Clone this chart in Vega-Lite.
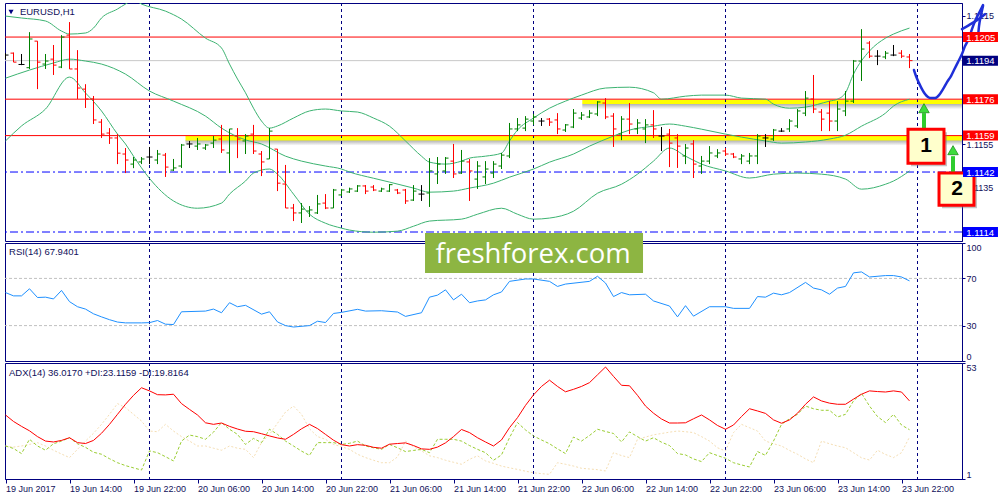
{
  "$schema": "https://vega.github.io/schema/vega-lite/v6.json",
  "padding": {"left": 3, "top": 2, "right": 0, "bottom": 0},
  "background": "white",
  "spacing": 2,
  "bounds": "flush",
  "config": {
    "view": {"stroke": "#000080", "strokeWidth": 1},
    "axis": {"labelFont": "Liberation Sans", "labelFontSize": 9, "labelColor": "#10105a", "domainColor": "#000080", "tickColor": "#000080", "grid": false}
  },
  "datasets": {
    "bars": [
      {"i":0,"o":1.11966,"h":1.11975,"l":1.11947,"c":1.11966},
      {"i":1,"o":1.11975,"h":1.11978,"l":1.11933,"c":1.11933},
      {"i":2,"o":1.11922,"h":1.11971,"l":1.11919,"c":1.11922},
      {"i":3,"o":1.11907,"h":1.12073,"l":1.11901,"c":1.12041},
      {"i":4,"o":1.12031,"h":1.12031,"l":1.11807,"c":1.11933},
      {"i":5,"o":1.11924,"h":1.11971,"l":1.11901,"c":1.11938},
      {"i":6,"o":1.11947,"h":1.12013,"l":1.11873,"c":1.11919},
      {"i":7,"o":1.1191,"h":1.12059,"l":1.11905,"c":1.1205},
      {"i":8,"o":1.12059,"h":1.1212,"l":1.11901,"c":1.11901},
      {"i":9,"o":1.11901,"h":1.11989,"l":1.11761,"c":1.11812},
      {"i":10,"o":1.11807,"h":1.1183,"l":1.11719,"c":1.11761},
      {"i":11,"o":1.11761,"h":1.11775,"l":1.11644,"c":1.11663},
      {"i":12,"o":1.11653,"h":1.11667,"l":1.11579,"c":1.11597},
      {"i":13,"o":1.11602,"h":1.11625,"l":1.11551,"c":1.11579},
      {"i":14,"o":1.11579,"h":1.11597,"l":1.11457,"c":1.11508},
      {"i":15,"o":1.11504,"h":1.11532,"l":1.11415,"c":1.11476},
      {"i":16,"o":1.11457,"h":1.1149,"l":1.11438,"c":1.11476},
      {"i":17,"o":1.11467,"h":1.1149,"l":1.11457,"c":1.11481},
      {"i":18,"o":1.1149,"h":1.11537,"l":1.11457,"c":1.1149},
      {"i":19,"o":1.11476,"h":1.11523,"l":1.11457,"c":1.11504},
      {"i":20,"o":1.11499,"h":1.11509,"l":1.11397,"c":1.11443},
      {"i":21,"o":1.11429,"h":1.11481,"l":1.11425,"c":1.11439},
      {"i":22,"o":1.11448,"h":1.11551,"l":1.11439,"c":1.11546},
      {"i":23,"o":1.11551,"h":1.11565,"l":1.11532,"c":1.11551},
      {"i":24,"o":1.11541,"h":1.11579,"l":1.11523,"c":1.11551},
      {"i":25,"o":1.11532,"h":1.11551,"l":1.11523,"c":1.11546},
      {"i":26,"o":1.11555,"h":1.11588,"l":1.11532,"c":1.11569},
      {"i":27,"o":1.11574,"h":1.1164,"l":1.11509,"c":1.11523},
      {"i":28,"o":1.11509,"h":1.11621,"l":1.11415,"c":1.11621},
      {"i":29,"o":1.11588,"h":1.11625,"l":1.11485,"c":1.11574},
      {"i":30,"o":1.11565,"h":1.11597,"l":1.11504,"c":1.11588},
      {"i":31,"o":1.11597,"h":1.1164,"l":1.11504,"c":1.11518},
      {"i":32,"o":1.11504,"h":1.11518,"l":1.11401,"c":1.11467},
      {"i":33,"o":1.11481,"h":1.11625,"l":1.11481,"c":1.11611},
      {"i":34,"o":1.11527,"h":1.11527,"l":1.11331,"c":1.11368},
      {"i":35,"o":1.11364,"h":1.11453,"l":1.11252,"c":1.11252},
      {"i":36,"o":1.11252,"h":1.11271,"l":1.11191,"c":1.11229},
      {"i":37,"o":1.11229,"h":1.11275,"l":1.11182,"c":1.11247},
      {"i":38,"o":1.11238,"h":1.11261,"l":1.1121,"c":1.11243},
      {"i":39,"o":1.11229,"h":1.11313,"l":1.11224,"c":1.11271},
      {"i":40,"o":1.11275,"h":1.11317,"l":1.11247,"c":1.11252},
      {"i":41,"o":1.11252,"h":1.11341,"l":1.11252,"c":1.11336},
      {"i":42,"o":1.11313,"h":1.11341,"l":1.11308,"c":1.11336},
      {"i":43,"o":1.11327,"h":1.11347,"l":1.11322,"c":1.11341},
      {"i":44,"o":1.11331,"h":1.11359,"l":1.11327,"c":1.11355},
      {"i":45,"o":1.11355,"h":1.11359,"l":1.11317,"c":1.11331},
      {"i":46,"o":1.1135,"h":1.11359,"l":1.11331,"c":1.11336},
      {"i":47,"o":1.11331,"h":1.11347,"l":1.11327,"c":1.11341},
      {"i":48,"o":1.11331,"h":1.11364,"l":1.11327,"c":1.11361},
      {"i":49,"o":1.11336,"h":1.11341,"l":1.11317,"c":1.11322},
      {"i":50,"o":1.11336,"h":1.11341,"l":1.11271,"c":1.11285},
      {"i":51,"o":1.11289,"h":1.11359,"l":1.11285,"c":1.11331},
      {"i":52,"o":1.11317,"h":1.11359,"l":1.11285,"c":1.11317},
      {"i":53,"o":1.11322,"h":1.11485,"l":1.11257,"c":1.11425},
      {"i":54,"o":1.11411,"h":1.1149,"l":1.11364,"c":1.11457},
      {"i":55,"o":1.11425,"h":1.1149,"l":1.11411,"c":1.11485},
      {"i":56,"o":1.11471,"h":1.11551,"l":1.11392,"c":1.11411},
      {"i":57,"o":1.11415,"h":1.11523,"l":1.11411,"c":1.11471},
      {"i":58,"o":1.11467,"h":1.11481,"l":1.11285,"c":1.11425},
      {"i":59,"o":1.11387,"h":1.11471,"l":1.11341,"c":1.11448},
      {"i":60,"o":1.11397,"h":1.11471,"l":1.11364,"c":1.11434},
      {"i":61,"o":1.11415,"h":1.11471,"l":1.11392,"c":1.11457},
      {"i":62,"o":1.11448,"h":1.11509,"l":1.11434,"c":1.11499},
      {"i":63,"o":1.11495,"h":1.11649,"l":1.11485,"c":1.11621},
      {"i":64,"o":1.11621,"h":1.11672,"l":1.11611,"c":1.1164},
      {"i":65,"o":1.11625,"h":1.11681,"l":1.11611,"c":1.11667},
      {"i":66,"o":1.11658,"h":1.11691,"l":1.1164,"c":1.11677},
      {"i":67,"o":1.11658,"h":1.11672,"l":1.11635,"c":1.11658},
      {"i":68,"o":1.11667,"h":1.11672,"l":1.11635,"c":1.11653},
      {"i":69,"o":1.11663,"h":1.11695,"l":1.11597,"c":1.11621},
      {"i":70,"o":1.11616,"h":1.11644,"l":1.11607,"c":1.1164},
      {"i":71,"o":1.1163,"h":1.11714,"l":1.11625,"c":1.11695},
      {"i":72,"o":1.11672,"h":1.117,"l":1.11663,"c":1.11686},
      {"i":73,"o":1.11677,"h":1.11709,"l":1.11672,"c":1.11695},
      {"i":74,"o":1.11691,"h":1.11751,"l":1.11681,"c":1.11747},
      {"i":75,"o":1.11742,"h":1.11765,"l":1.11667,"c":1.11677},
      {"i":76,"o":1.11681,"h":1.11695,"l":1.11537,"c":1.11621},
      {"i":77,"o":1.11597,"h":1.11681,"l":1.11569,"c":1.11667},
      {"i":78,"o":1.11667,"h":1.11742,"l":1.11597,"c":1.11644},
      {"i":79,"o":1.11621,"h":1.11667,"l":1.11597,"c":1.11649},
      {"i":80,"o":1.11621,"h":1.11667,"l":1.11555,"c":1.1164},
      {"i":81,"o":1.1164,"h":1.11709,"l":1.11579,"c":1.11621},
      {"i":82,"o":1.11588,"h":1.1163,"l":1.11518,"c":1.11588},
      {"i":83,"o":1.11597,"h":1.11621,"l":1.11443,"c":1.11555},
      {"i":84,"o":1.11579,"h":1.11597,"l":1.11439,"c":1.11541},
      {"i":85,"o":1.11495,"h":1.11551,"l":1.11457,"c":1.11532},
      {"i":86,"o":1.11551,"h":1.11569,"l":1.11392,"c":1.11457},
      {"i":87,"o":1.11448,"h":1.11495,"l":1.11411,"c":1.11471},
      {"i":88,"o":1.11471,"h":1.11541,"l":1.11457,"c":1.11509},
      {"i":89,"o":1.11495,"h":1.11527,"l":1.11485,"c":1.11509},
      {"i":90,"o":1.11518,"h":1.11532,"l":1.11495,"c":1.11504},
      {"i":91,"o":1.11504,"h":1.11509,"l":1.11485,"c":1.1149},
      {"i":92,"o":1.11481,"h":1.11504,"l":1.11457,"c":1.11495},
      {"i":93,"o":1.11471,"h":1.11509,"l":1.11457,"c":1.11495},
      {"i":94,"o":1.11495,"h":1.11597,"l":1.11457,"c":1.11588},
      {"i":95,"o":1.11579,"h":1.11597,"l":1.11537,"c":1.11579},
      {"i":96,"o":1.11574,"h":1.11621,"l":1.11565,"c":1.11616},
      {"i":97,"o":1.11611,"h":1.11625,"l":1.11607,"c":1.11611},
      {"i":98,"o":1.11621,"h":1.11667,"l":1.11607,"c":1.11658},
      {"i":99,"o":1.11635,"h":1.11714,"l":1.11625,"c":1.11705},
      {"i":100,"o":1.11695,"h":1.11798,"l":1.11681,"c":1.11765},
      {"i":101,"o":1.11761,"h":1.11873,"l":1.11695,"c":1.11714},
      {"i":102,"o":1.117,"h":1.11714,"l":1.11611,"c":1.11667},
      {"i":103,"o":1.11695,"h":1.11751,"l":1.11611,"c":1.11658},
      {"i":104,"o":1.11658,"h":1.11751,"l":1.11611,"c":1.11714},
      {"i":105,"o":1.11705,"h":1.11798,"l":1.11681,"c":1.11751},
      {"i":106,"o":1.11751,"h":1.11943,"l":1.11742,"c":1.11938},
      {"i":107,"o":1.11938,"h":1.12087,"l":1.11845,"c":1.11994},
      {"i":108,"o":1.12022,"h":1.12031,"l":1.11952,"c":1.11961},
      {"i":109,"o":1.11961,"h":1.11989,"l":1.11919,"c":1.11961},
      {"i":110,"o":1.11957,"h":1.11985,"l":1.11947,"c":1.11975},
      {"i":111,"o":1.11966,"h":1.12013,"l":1.11961,"c":1.11966},
      {"i":112,"o":1.11975,"h":1.11989,"l":1.11952,"c":1.11961},
      {"i":113,"o":1.11957,"h":1.11971,"l":1.11905,"c":1.1194}
    ],
    "bb": [
      {"band":"upper","i":0,"p":1.12148},{"band":"upper","i":2,"p":1.12139},{"band":"upper","i":5,"p":1.12125},{"band":"upper","i":7,"p":1.12078},{"band":"upper","i":8,"p":1.12064},{"band":"upper","i":10,"p":1.12069},{"band":"upper","i":11,"p":1.12092},{"band":"upper","i":12,"p":1.12139},{"band":"upper","i":14,"p":1.12181},{"band":"upper","i":15,"p":1.12204},{"band":"upper","i":16,"p":1.12223},{"band":"upper","i":17,"p":1.12204},{"band":"upper","i":20,"p":1.12171},{"band":"upper","i":22,"p":1.12134},{"band":"upper","i":25,"p":1.12045},{"band":"upper","i":27,"p":1.11999},{"band":"upper","i":28,"p":1.11924},{"band":"upper","i":29,"p":1.11854},{"band":"upper","i":30,"p":1.1179},{"band":"upper","i":31,"p":1.11718},{"band":"upper","i":32,"p":1.11658},{"band":"upper","i":33,"p":1.11625},{"band":"upper","i":34,"p":1.11635},{"band":"upper","i":36,"p":1.11672},{"band":"upper","i":38,"p":1.11705},{"band":"upper","i":40,"p":1.11714},{"band":"upper","i":42,"p":1.11705},{"band":"upper","i":44,"p":1.117},{"band":"upper","i":46,"p":1.11672},{"band":"upper","i":48,"p":1.11634},{"band":"upper","i":50,"p":1.11565},{"band":"upper","i":52,"p":1.11494},{"band":"upper","i":53,"p":1.11466},{"band":"upper","i":55,"p":1.11457},{"band":"upper","i":57,"p":1.11471},{"band":"upper","i":58,"p":1.11485},{"band":"upper","i":60,"p":1.11494},{"band":"upper","i":62,"p":1.11508},{"band":"upper","i":63,"p":1.11565},{"band":"upper","i":64,"p":1.11616},{"band":"upper","i":66,"p":1.11672},{"band":"upper","i":68,"p":1.11718},{"band":"upper","i":70,"p":1.11751},{"band":"upper","i":72,"p":1.11779},{"band":"upper","i":75,"p":1.11812},{"band":"upper","i":78,"p":1.11816},{"band":"upper","i":81,"p":1.1179},{"band":"upper","i":82,"p":1.1176},{"band":"upper","i":85,"p":1.11774},{"band":"upper","i":87,"p":1.11779},{"band":"upper","i":90,"p":1.11779},{"band":"upper","i":92,"p":1.11765},{"band":"upper","i":95,"p":1.1176},{"band":"upper","i":96,"p":1.11737},{"band":"upper","i":98,"p":1.11718},{"band":"upper","i":100,"p":1.11723},{"band":"upper","i":103,"p":1.11751},{"band":"upper","i":104,"p":1.1176},{"band":"upper","i":105,"p":1.1179},{"band":"upper","i":106,"p":1.11877},{"band":"upper","i":108,"p":1.11985},{"band":"upper","i":110,"p":1.12045},{"band":"upper","i":111,"p":1.12064},{"band":"upper","i":113,"p":1.12092},
      {"band":"mid","i":0,"p":1.11858},{"band":"mid","i":3,"p":1.11896},{"band":"mid","i":6,"p":1.11929},{"band":"mid","i":8,"p":1.11947},{"band":"mid","i":10,"p":1.11938},{"band":"mid","i":12,"p":1.11924},{"band":"mid","i":15,"p":1.11877},{"band":"mid","i":18,"p":1.11798},{"band":"mid","i":21,"p":1.11751},{"band":"mid","i":25,"p":1.11681},{"band":"mid","i":27,"p":1.11625},{"band":"mid","i":30,"p":1.1157},{"band":"mid","i":32,"p":1.11551},{"band":"mid","i":35,"p":1.11494},{"band":"mid","i":37,"p":1.11471},{"band":"mid","i":40,"p":1.11448},{"band":"mid","i":42,"p":1.11434},{"band":"mid","i":43,"p":1.1142},{"band":"mid","i":46,"p":1.11391},{"band":"mid","i":48,"p":1.11373},{"band":"mid","i":51,"p":1.11345},{"band":"mid","i":53,"p":1.11326},{"band":"mid","i":56,"p":1.11331},{"band":"mid","i":58,"p":1.11345},{"band":"mid","i":61,"p":1.11368},{"band":"mid","i":63,"p":1.11396},{"band":"mid","i":66,"p":1.11434},{"band":"mid","i":68,"p":1.11466},{"band":"mid","i":71,"p":1.11504},{"band":"mid","i":73,"p":1.11541},{"band":"mid","i":76,"p":1.11588},{"band":"mid","i":78,"p":1.11616},{"band":"mid","i":81,"p":1.11634},{"band":"mid","i":83,"p":1.11644},{"band":"mid","i":85,"p":1.11634},{"band":"mid","i":87,"p":1.1162},{"band":"mid","i":90,"p":1.11597},{"band":"mid","i":92,"p":1.11583},{"band":"mid","i":95,"p":1.11565},{"band":"mid","i":97,"p":1.11555},{"band":"mid","i":100,"p":1.1156},{"band":"mid","i":103,"p":1.11574},{"band":"mid","i":105,"p":1.11592},{"band":"mid","i":107,"p":1.11634},{"band":"mid","i":110,"p":1.11695},{"band":"mid","i":111,"p":1.11728},{"band":"mid","i":113,"p":1.1176},
      {"band":"lower","i":0,"p":1.11565},{"band":"lower","i":2,"p":1.11635},{"band":"lower","i":5,"p":1.11714},{"band":"lower","i":8,"p":1.11863},{"band":"lower","i":10,"p":1.11789},{"band":"lower","i":12,"p":1.11705},{"band":"lower","i":14,"p":1.11597},{"band":"lower","i":15,"p":1.11551},{"band":"lower","i":16,"p":1.11494},{"band":"lower","i":18,"p":1.1139},{"band":"lower","i":21,"p":1.11285},{"band":"lower","i":24,"p":1.11251},{"band":"lower","i":27,"p":1.11275},{"band":"lower","i":28,"p":1.11317},{"band":"lower","i":30,"p":1.11378},{"band":"lower","i":31,"p":1.11415},{"band":"lower","i":33,"p":1.11434},{"band":"lower","i":34,"p":1.1141},{"band":"lower","i":36,"p":1.11317},{"band":"lower","i":38,"p":1.11223},{"band":"lower","i":40,"p":1.11181},{"band":"lower","i":42,"p":1.11158},{"band":"lower","i":43,"p":1.11149},{"band":"lower","i":46,"p":1.11139},{"band":"lower","i":49,"p":1.11144},{"band":"lower","i":51,"p":1.11167},{"band":"lower","i":53,"p":1.11191},{"band":"lower","i":57,"p":1.112},{"band":"lower","i":59,"p":1.11223},{"band":"lower","i":62,"p":1.11251},{"band":"lower","i":64,"p":1.11223},{"band":"lower","i":66,"p":1.112},{"band":"lower","i":68,"p":1.11205},{"band":"lower","i":71,"p":1.11237},{"band":"lower","i":74,"p":1.11321},{"band":"lower","i":77,"p":1.11363},{"band":"lower","i":79,"p":1.1141},{"band":"lower","i":81,"p":1.11471},{"band":"lower","i":83,"p":1.11532},{"band":"lower","i":85,"p":1.11494},{"band":"lower","i":87,"p":1.11457},{"band":"lower","i":90,"p":1.11425},{"band":"lower","i":93,"p":1.11392},{"band":"lower","i":96,"p":1.1141},{"band":"lower","i":99,"p":1.11415},{"band":"lower","i":102,"p":1.1141},{"band":"lower","i":105,"p":1.11387},{"band":"lower","i":107,"p":1.1134},{"band":"lower","i":110,"p":1.11363},{"band":"lower","i":111,"p":1.11378},{"band":"lower","i":113,"p":1.11425}
    ],
    "levels": [
      {"p":1.1205,"kind":"red"},{"p":1.1194,"kind":"bid"},{"p":1.1176,"kind":"red"},{"p":1.1159,"kind":"red"},{"p":1.1142,"kind":"blue"},{"p":1.1114,"kind":"blue"}
    ],
    "bands": [{"p":1.1176,"from":72.1},{"p":1.1159,"from":22.5}],
    "seps": [{"i":18},{"i":42},{"i":66},{"i":90},{"i":114}],
    "sketch": [
      {"s":1,"k":0,"x":113.56,"p":1.11896},{"s":1,"k":1,"x":113.81,"p":1.11868},{"s":1,"k":2,"x":114.19,"p":1.11835},{"s":1,"k":3,"x":114.56,"p":1.11807},{"s":1,"k":4,"x":114.94,"p":1.11784},{"s":1,"k":5,"x":115.31,"p":1.1177},{"s":1,"k":6,"x":115.69,"p":1.11765},{"s":1,"k":7,"x":116.19,"p":1.11765},{"s":1,"k":8,"x":116.69,"p":1.11779},{"s":1,"k":9,"x":117.19,"p":1.11807},{"s":1,"k":10,"x":117.69,"p":1.1184},{"s":1,"k":11,"x":118.19,"p":1.11868},{"s":1,"k":12,"x":118.56,"p":1.11896},{"s":1,"k":13,"x":119.06,"p":1.11933},{"s":1,"k":14,"x":119.56,"p":1.11971},{"s":1,"k":15,"x":119.94,"p":1.12008},{"s":1,"k":16,"x":120.44,"p":1.12045},{"s":1,"k":17,"x":120.81,"p":1.12087},{"s":1,"k":18,"x":121.19,"p":1.12125},{"s":1,"k":19,"x":121.69,"p":1.12162},{"s":1,"k":20,"x":122.19,"p":1.12199},
      {"s":2,"k":0,"x":119.56,"p":1.12087},{"s":2,"k":1,"x":120.44,"p":1.12106},{"s":2,"k":2,"x":121.44,"p":1.12129},{"s":2,"k":3,"x":122.44,"p":1.12157},
      {"s":3,"k":0,"x":121.56,"p":1.1205},{"s":3,"k":1,"x":121.69,"p":1.12101},{"s":3,"k":2,"x":121.94,"p":1.12153},{"s":3,"k":3,"x":122.19,"p":1.12195}
    ],
    "arrows": [{"x":114.81,"p0":1.11625,"p1":1.11695,"ph":1.11718},{"x":118.44,"p0":1.11415,"p1":1.11494,"ph":1.11522}],
    "boxes": [
      {"n":"1","x1":112.81,"x2":117.31,"p1":1.1162,"p2":1.11461,"xc":115.06,"pc":1.11541},
      {"n":"2","x1":116.69,"x2":121.06,"p1":1.11415,"p2":1.11265,"xc":118.94,"pc":1.1134}
    ],
    "rsi": [
      {"i":0,"v":58.0},{"i":1,"v":55.2},{"i":2,"v":55.2},{"i":3,"v":61.2},{"i":4,"v":53.8},{"i":5,"v":54.1},{"i":6,"v":52.6},{"i":7,"v":59.8},{"i":8,"v":50.3},{"i":9,"v":46.0},{"i":10,"v":44.0},{"i":11,"v":40.0},{"i":12,"v":37.4},{"i":13,"v":35.0},{"i":14,"v":33.0},{"i":15,"v":32.3},{"i":17,"v":32.3},{"i":18,"v":32.5},{"i":19,"v":34.3},{"i":20,"v":31.2},{"i":21,"v":30.9},{"i":22,"v":41.7},{"i":25,"v":42.3},{"i":26,"v":44.0},{"i":27,"v":40.9},{"i":28,"v":49.4},{"i":29,"v":46.0},{"i":30,"v":47.2},{"i":32,"v":39.7},{"i":33,"v":41.7},{"i":34,"v":33.1},{"i":35,"v":30.0},{"i":36,"v":28.8},{"i":38,"v":30.0},{"i":39,"v":33.7},{"i":40,"v":32.6},{"i":41,"v":40.3},{"i":42,"v":41.2},{"i":44,"v":43.8},{"i":45,"v":42.3},{"i":47,"v":42.6},{"i":49,"v":41.5},{"i":50,"v":37.8},{"i":52,"v":40.9},{"i":53,"v":54.1},{"i":54,"v":55.8},{"i":55,"v":60.3},{"i":56,"v":51.8},{"i":57,"v":56.6},{"i":58,"v":49.4},{"i":59,"v":50.9},{"i":60,"v":51.8},{"i":61,"v":56.1},{"i":62,"v":58.5},{"i":63,"v":67.5},{"i":65,"v":69.5},{"i":66,"v":69.5},{"i":68,"v":67.5},{"i":69,"v":63.2},{"i":70,"v":65.2},{"i":73,"v":67.5},{"i":74,"v":71.8},{"i":75,"v":66.1},{"i":76,"v":54.6},{"i":77,"v":58.0},{"i":78,"v":56.1},{"i":80,"v":56.6},{"i":81,"v":50.9},{"i":83,"v":46.6},{"i":84,"v":37.4},{"i":85,"v":46.9},{"i":86,"v":38.0},{"i":88,"v":46.0},{"i":90,"v":46.0},{"i":91,"v":44.6},{"i":93,"v":44.6},{"i":94,"v":54.6},{"i":95,"v":54.1},{"i":96,"v":57.5},{"i":97,"v":56.1},{"i":98,"v":58.0},{"i":100,"v":66.6},{"i":101,"v":61.8},{"i":102,"v":60.3},{"i":103,"v":56.6},{"i":104,"v":61.8},{"i":105,"v":63.2},{"i":106,"v":74.7},{"i":107,"v":75.5},{"i":108,"v":71.2},{"i":110,"v":72.4},{"i":111,"v":72.4},{"i":112,"v":71.2},{"i":113,"v":67.9}
    ],
    "adx": [
      {"i":0,"v":29.7},{"i":1,"v":26.8},{"i":2,"v":24.6},{"i":3,"v":22.6},{"i":4,"v":20.0},{"i":5,"v":18.0},{"i":6,"v":17.6},{"i":7,"v":18.3},{"i":8,"v":19.5},{"i":9,"v":17.3},{"i":10,"v":16.9},{"i":11,"v":18.3},{"i":12,"v":21.5},{"i":13,"v":25.5},{"i":14,"v":30.0},{"i":15,"v":34.5},{"i":16,"v":38.5},{"i":17,"v":41.9},{"i":18,"v":40.5},{"i":19,"v":38.8},{"i":20,"v":38.7},{"i":21,"v":39.0},{"i":22,"v":34.8},{"i":23,"v":32.2},{"i":24,"v":29.7},{"i":25,"v":26.2},{"i":26,"v":25.5},{"i":27,"v":26.1},{"i":28,"v":24.6},{"i":29,"v":23.4},{"i":30,"v":22.4},{"i":31,"v":22.2},{"i":32,"v":21.3},{"i":33,"v":20.3},{"i":34,"v":19.4},{"i":35,"v":18.8},{"i":36,"v":21.0},{"i":37,"v":23.5},{"i":38,"v":25.5},{"i":39,"v":23.6},{"i":40,"v":21.0},{"i":41,"v":18.4},{"i":42,"v":16.4},{"i":43,"v":15.8},{"i":44,"v":16.4},{"i":45,"v":16.1},{"i":46,"v":15.2},{"i":47,"v":14.8},{"i":48,"v":16.6},{"i":49,"v":16.9},{"i":50,"v":17.2},{"i":51,"v":16.0},{"i":52,"v":14.5},{"i":53,"v":14.3},{"i":54,"v":15.3},{"i":55,"v":17.2},{"i":56,"v":20.0},{"i":57,"v":23.2},{"i":58,"v":21.8},{"i":59,"v":19.5},{"i":60,"v":17.6},{"i":61,"v":15.8},{"i":62,"v":18.5},{"i":63,"v":24.0},{"i":64,"v":28.5},{"i":65,"v":34.0},{"i":66,"v":38.7},{"i":67,"v":42.5},{"i":68,"v":45.3},{"i":69,"v":42.5},{"i":70,"v":40.1},{"i":71,"v":41.2},{"i":72,"v":42.5},{"i":73,"v":44.2},{"i":74,"v":47.7},{"i":75,"v":51.2},{"i":76,"v":47.0},{"i":77,"v":43.0},{"i":78,"v":42.8},{"i":79,"v":38.5},{"i":80,"v":33.7},{"i":81,"v":30.5},{"i":82,"v":27.9},{"i":83,"v":26.1},{"i":84,"v":26.1},{"i":85,"v":26.2},{"i":86,"v":28.0},{"i":87,"v":29.7},{"i":88,"v":27.5},{"i":89,"v":25.0},{"i":90,"v":23.3},{"i":91,"v":25.2},{"i":92,"v":29.0},{"i":93,"v":32.5},{"i":94,"v":31.5},{"i":95,"v":30.4},{"i":96,"v":27.5},{"i":97,"v":26.0},{"i":98,"v":27.5},{"i":99,"v":30.5},{"i":100,"v":34.5},{"i":101,"v":37.8},{"i":102,"v":36.0},{"i":103,"v":35.0},{"i":104,"v":34.5},{"i":105,"v":34.5},{"i":106,"v":36.8},{"i":107,"v":39.0},{"i":108,"v":40.5},{"i":109,"v":40.2},{"i":110,"v":40.0},{"i":111,"v":40.5},{"i":112,"v":40.0},{"i":113,"v":36.0}
    ],
    "pdi": [
      {"i":0,"v":15.8},{"i":1,"v":14.7},{"i":2,"v":12.4},{"i":3,"v":18.8},{"i":4,"v":15.8},{"i":5,"v":13.9},{"i":6,"v":16.8},{"i":7,"v":18.0},{"i":8,"v":19.5},{"i":9,"v":16.8},{"i":10,"v":15.2},{"i":11,"v":13.0},{"i":12,"v":12.1},{"i":13,"v":10.1},{"i":14,"v":8.3},{"i":15,"v":7.0},{"i":16,"v":6.0},{"i":17,"v":5.0},{"i":18,"v":13.6},{"i":19,"v":12.8},{"i":20,"v":11.0},{"i":21,"v":9.1},{"i":22,"v":18.0},{"i":23,"v":20.7},{"i":24,"v":20.0},{"i":25,"v":18.8},{"i":26,"v":22.0},{"i":27,"v":26.3},{"i":28,"v":23.3},{"i":29,"v":21.0},{"i":30,"v":16.5},{"i":31,"v":19.2},{"i":32,"v":17.3},{"i":33,"v":23.3},{"i":34,"v":21.0},{"i":35,"v":18.0},{"i":36,"v":15.8},{"i":37,"v":13.5},{"i":38,"v":11.6},{"i":39,"v":17.3},{"i":40,"v":17.3},{"i":41,"v":17.3},{"i":42,"v":16.5},{"i":43,"v":17.0},{"i":44,"v":18.0},{"i":45,"v":15.8},{"i":46,"v":15.0},{"i":47,"v":14.3},{"i":48,"v":16.5},{"i":49,"v":15.0},{"i":50,"v":13.3},{"i":51,"v":13.8},{"i":52,"v":14.3},{"i":53,"v":12.8},{"i":54,"v":18.8},{"i":55,"v":18.8},{"i":56,"v":18.8},{"i":57,"v":18.0},{"i":58,"v":16.0},{"i":59,"v":14.3},{"i":60,"v":12.8},{"i":61,"v":9.4},{"i":62,"v":11.8},{"i":63,"v":19.5},{"i":64,"v":26.3},{"i":65,"v":23.0},{"i":66,"v":20.3},{"i":67,"v":18.5},{"i":68,"v":16.8},{"i":69,"v":14.5},{"i":70,"v":12.4},{"i":71,"v":19.8},{"i":72,"v":18.0},{"i":73,"v":20.5},{"i":74,"v":23.3},{"i":75,"v":22.3},{"i":76,"v":21.4},{"i":77,"v":17.6},{"i":78,"v":22.1},{"i":79,"v":20.0},{"i":80,"v":18.0},{"i":81,"v":19.5},{"i":82,"v":17.5},{"i":83,"v":16.0},{"i":84,"v":12.4},{"i":85,"v":11.8},{"i":86,"v":10.0},{"i":87,"v":8.8},{"i":88,"v":12.8},{"i":89,"v":11.5},{"i":90,"v":10.3},{"i":91,"v":8.3},{"i":92,"v":7.3},{"i":93,"v":6.4},{"i":94,"v":13.3},{"i":95,"v":11.6},{"i":96,"v":18.0},{"i":97,"v":25.5},{"i":98,"v":28.0},{"i":99,"v":30.0},{"i":100,"v":33.7},{"i":101,"v":32.5},{"i":102,"v":31.8},{"i":103,"v":31.8},{"i":104,"v":28.8},{"i":105,"v":30.0},{"i":106,"v":36.0},{"i":107,"v":39.4},{"i":108,"v":33.7},{"i":109,"v":29.0},{"i":110,"v":26.3},{"i":111,"v":30.0},{"i":112,"v":25.2},{"i":113,"v":23.1}
    ],
    "mdi": [
      {"i":0,"v":15.8},{"i":1,"v":15.3},{"i":2,"v":15.8},{"i":3,"v":16.5},{"i":4,"v":17.3},{"i":5,"v":15.8},{"i":6,"v":13.9},{"i":7,"v":12.2},{"i":8,"v":10.6},{"i":9,"v":14.3},{"i":10,"v":18.0},{"i":11,"v":21.5},{"i":12,"v":25.5},{"i":13,"v":30.0},{"i":14,"v":34.8},{"i":15,"v":33.0},{"i":16,"v":30.0},{"i":17,"v":27.0},{"i":18,"v":22.5},{"i":19,"v":22.2},{"i":20,"v":25.5},{"i":21,"v":22.5},{"i":22,"v":20.0},{"i":23,"v":18.0},{"i":24,"v":15.8},{"i":25,"v":15.8},{"i":26,"v":14.8},{"i":27,"v":13.9},{"i":28,"v":15.8},{"i":29,"v":14.8},{"i":30,"v":14.3},{"i":31,"v":10.6},{"i":32,"v":17.3},{"i":33,"v":21.0},{"i":34,"v":26.0},{"i":35,"v":31.0},{"i":36,"v":33.7},{"i":37,"v":30.0},{"i":38,"v":23.5},{"i":39,"v":20.0},{"i":40,"v":18.8},{"i":41,"v":16.5},{"i":42,"v":15.5},{"i":43,"v":14.3},{"i":44,"v":12.1},{"i":45,"v":10.6},{"i":46,"v":9.4},{"i":47,"v":8.3},{"i":48,"v":8.3},{"i":49,"v":10.9},{"i":50,"v":18.0},{"i":51,"v":15.5},{"i":52,"v":13.6},{"i":53,"v":11.4},{"i":54,"v":10.6},{"i":55,"v":9.4},{"i":56,"v":8.5},{"i":57,"v":7.6},{"i":58,"v":9.8},{"i":59,"v":11.4},{"i":60,"v":9.1},{"i":61,"v":8.0},{"i":62,"v":6.8},{"i":63,"v":6.0},{"i":64,"v":5.3},{"i":65,"v":4.5},{"i":66,"v":3.8},{"i":67,"v":3.4},{"i":68,"v":3.1},{"i":69,"v":8.3},{"i":70,"v":7.6},{"i":71,"v":6.8},{"i":72,"v":5.8},{"i":73,"v":5.5},{"i":74,"v":5.2},{"i":75,"v":4.6},{"i":76,"v":12.8},{"i":77,"v":11.5},{"i":78,"v":10.6},{"i":79,"v":18.8},{"i":80,"v":19.8},{"i":81,"v":20.8},{"i":82,"v":21.4},{"i":83,"v":22.0},{"i":84,"v":22.5},{"i":85,"v":22.2},{"i":86,"v":21.8},{"i":87,"v":20.0},{"i":88,"v":18.0},{"i":89,"v":15.0},{"i":90,"v":13.6},{"i":91,"v":21.8},{"i":92,"v":25.5},{"i":93,"v":24.0},{"i":94,"v":22.5},{"i":95,"v":18.0},{"i":96,"v":16.8},{"i":97,"v":15.8},{"i":98,"v":13.8},{"i":99,"v":12.1},{"i":100,"v":10.0},{"i":101,"v":8.3},{"i":102,"v":18.0},{"i":103,"v":16.8},{"i":104,"v":15.8},{"i":105,"v":15.0},{"i":106,"v":12.8},{"i":107,"v":10.5},{"i":108,"v":9.5},{"i":109,"v":13.9},{"i":110,"v":12.0},{"i":111,"v":10.6},{"i":112,"v":12.8},{"i":113,"v":19.8}
    ]
  },
  "vconcat": [
    {
      "width": 957,
      "height": 238,
      "resolve": {"axis": {"x": "independent", "y": "independent"}},
      "layer": [
        {
          "data": {"name": "bands"},
          "mark": {"type": "rect", "yOffset": 4.5, "y2Offset": 10, "opacity": 0.7, "fill": {"gradient": "linear", "x1": 0, "y1": 0, "x2": 0, "y2": 1, "stops": [{"offset": 0, "color": "#8a8a8a"}, {"offset": 1, "color": "#ffffff"}]}},
          "encoding": {
            "x": {"field": "from", "type": "quantitative", "scale": {"domain": [-0.0625, 119.5625], "nice": false, "zero": false}, "axis": null},
            "x2": {"datum": 119.5625},
            "y": {"field": "p", "type": "quantitative", "scale": {"domain": [1.11098, 1.12209], "nice": false, "zero": false}, "axis": null},
            "y2": {"field": "p"}
          }
        },
        {
          "data": {"name": "bands"},
          "mark": {"type": "rect", "yOffset": 0.5, "y2Offset": 4.8, "fill": "#ffff00"},
          "encoding": {
            "x": {"field": "from", "type": "quantitative", "axis": null},
            "x2": {"datum": 119.5625},
            "y": {"field": "p", "type": "quantitative", "axis": null},
            "y2": {"field": "p"}
          }
        },
        {
          "data": {"name": "seps"},
          "mark": {"type": "rule", "color": "#000080", "strokeWidth": 1, "strokeDash": [3, 3]},
          "encoding": {
            "x": {"field": "i", "type": "quantitative", "axis": null}
          }
        },
        {
          "data": {"name": "levels"},
          "transform": [{"filter": "datum.kind == 'red'"}],
          "mark": {"type": "rule", "color": "#ff0000", "strokeWidth": 1},
          "encoding": {
            "y": {"field": "p", "type": "quantitative", "axis": {"orient": "right", "values": [1.1215, 1.1155, 1.1135], "format": ".4f", "tickSize": 3, "labelPadding": 1, "title": null, "labelColor": "#10105a", "domainColor": "#000080", "tickColor": "#000080"}}
          }
        },
        {
          "data": {"name": "levels"},
          "transform": [{"filter": "datum.kind == 'blue'"}],
          "mark": {"type": "rule", "color": "#0000ff", "strokeWidth": 1, "strokeDash": [8, 3, 2, 3]},
          "encoding": {"y": {"field": "p", "type": "quantitative", "axis": null}}
        },
        {
          "data": {"name": "levels"},
          "transform": [{"filter": "datum.kind == 'bid'"}],
          "mark": {"type": "rule", "color": "#c8c8c8", "strokeWidth": 1},
          "encoding": {"y": {"field": "p", "type": "quantitative", "axis": null}}
        },
        {
          "data": {"name": "bb"},
          "mark": {"type": "line", "color": "#3cb371", "strokeWidth": 1, "clip": true, "interpolate": "monotone"},
          "encoding": {
            "x": {"field": "i", "type": "quantitative", "axis": null},
            "y": {"field": "p", "type": "quantitative", "axis": null},
            "detail": {"field": "band"}
          }
        },
        {
          "data": {"name": "bars"},
          "mark": {"type": "rule", "strokeWidth": 1, "clip": true},
          "encoding": {
            "x": {"field": "i", "type": "quantitative", "axis": null},
            "y": {"field": "l", "type": "quantitative", "axis": null},
            "y2": {"field": "h"},
            "color": {"condition": [{"test": "datum.c > datum.o", "value": "#008000"}, {"test": "datum.c < datum.o", "value": "#ff0000"}], "value": "#000000"}
          }
        },
        {
          "data": {"name": "bars"},
          "mark": {"type": "rule", "strokeWidth": 1, "clip": true, "xOffset": -3, "x2Offset": 0},
          "encoding": {
            "x": {"field": "i", "type": "quantitative", "axis": null},
            "x2": {"field": "i"},
            "y": {"field": "o", "type": "quantitative", "axis": null},
            "color": {"condition": [{"test": "datum.c > datum.o", "value": "#008000"}, {"test": "datum.c < datum.o", "value": "#ff0000"}], "value": "#000000"}
          }
        },
        {
          "data": {"name": "bars"},
          "mark": {"type": "rule", "strokeWidth": 1, "clip": true, "xOffset": 0, "x2Offset": 3},
          "encoding": {
            "x": {"field": "i", "type": "quantitative", "axis": null},
            "x2": {"field": "i"},
            "y": {"field": "c", "type": "quantitative", "axis": null},
            "color": {"condition": [{"test": "datum.c > datum.o", "value": "#008000"}, {"test": "datum.c < datum.o", "value": "#ff0000"}], "value": "#000000"}
          }
        },
        {
          "data": {"name": "arrows"},
          "mark": {"type": "rule", "strokeWidth": 4, "color": "#2ecc2e"},
          "encoding": {
            "x": {"field": "x", "type": "quantitative", "axis": null},
            "y": {"field": "p0", "type": "quantitative", "axis": null},
            "y2": {"field": "p1"}
          }
        },
        {
          "data": {"name": "arrows"},
          "mark": {"type": "point", "shape": "triangle-up", "filled": true, "size": 110, "fill": "#3ddc3d", "stroke": "#1c8f1c", "strokeWidth": 0.8, "opacity": 1},
          "encoding": {
            "x": {"field": "x", "type": "quantitative", "axis": null},
            "y": {"field": "ph", "type": "quantitative", "axis": null}
          }
        },
        {
          "data": {"name": "sketch"},
          "mark": {"type": "line", "color": "#1f2fd8", "strokeWidth": 2.5, "strokeCap": "round", "strokeJoin": "round", "interpolate": "monotone"},
          "encoding": {
            "x": {"field": "x", "type": "quantitative", "axis": null},
            "y": {"field": "p", "type": "quantitative", "axis": null},
            "detail": {"field": "s"},
            "order": {"field": "k"}
          }
        },
        {
          "data": {"name": "boxes"},
          "mark": {"type": "rect", "fill": "#7a7a7a", "opacity": 0.45, "xOffset": 3, "x2Offset": 3, "yOffset": 3, "y2Offset": 3},
          "encoding": {
            "x": {"field": "x1", "type": "quantitative", "axis": null},
            "x2": {"field": "x2"},
            "y": {"field": "p1", "type": "quantitative", "axis": null},
            "y2": {"field": "p2"}
          }
        },
        {
          "data": {"name": "boxes"},
          "mark": {"type": "rect", "fill": "#ffffcc", "stroke": "#ff0000", "strokeWidth": 3},
          "encoding": {
            "x": {"field": "x1", "type": "quantitative", "axis": null},
            "x2": {"field": "x2"},
            "y": {"field": "p1", "type": "quantitative", "axis": null},
            "y2": {"field": "p2"}
          }
        },
        {
          "data": {"name": "boxes"},
          "mark": {"type": "text", "font": "Liberation Sans", "fontWeight": "bold", "fontSize": 21, "color": "#000000", "align": "center", "baseline": "middle"},
          "encoding": {
            "x": {"field": "xc", "type": "quantitative", "axis": null},
            "y": {"field": "pc", "type": "quantitative", "axis": null},
            "text": {"field": "n"}
          }
        },
        {
          "data": {"name": "levels"},
          "mark": {"type": "rect", "yOffset": -5, "y2Offset": 5},
          "encoding": {
            "x": {"datum": 119.69, "axis": null},
            "x2": {"datum": 124.06},
            "y": {"field": "p", "type": "quantitative", "axis": null},
            "y2": {"field": "p"},
            "color": {"field": "kind", "type": "nominal", "scale": {"domain": ["red", "bid", "blue"], "range": ["#ff0000", "#000080", "#0000ff"]}, "legend": null}
          }
        },
        {
          "data": {"name": "levels"},
          "mark": {"type": "text", "font": "Liberation Sans", "fontSize": 9.5, "color": "#ffffff", "align": "left", "baseline": "middle", "dy": 0.5},
          "encoding": {
            "x": {"datum": 120.1, "axis": null},
            "y": {"field": "p", "type": "quantitative", "axis": null},
            "text": {"field": "p", "type": "quantitative", "format": ".4f"}
          }
        },
        {
          "data": {"values": [{"t": "EURUSD,H1"}]},
          "mark": {"type": "point", "shape": "triangle-down", "filled": true, "size": 26, "color": "#000080", "opacity": 1},
          "encoding": {
            "x": {"datum": 0.69, "axis": null},
            "y": {"datum": 1.12167, "axis": null}
          }
        },
        {
          "data": {"values": [{"t": "EURUSD,H1"}]},
          "mark": {"type": "text", "font": "Liberation Sans", "fontSize": 9.5, "color": "#10105a", "align": "left", "baseline": "middle"},
          "encoding": {
            "x": {"datum": 1.8, "axis": null},
            "y": {"datum": 1.12168, "axis": null},
            "text": {"field": "t"}
          }
        }
      ]
    },
    {
      "width": 957,
      "height": 118,
      "resolve": {"axis": {"x": "independent", "y": "independent"}},
      "layer": [
        {
          "data": {"values": [{"lvl": 70}, {"lvl": 30}]},
          "mark": {"type": "rule", "color": "#c0c0c0", "strokeWidth": 1, "strokeDash": [3, 2]},
          "encoding": {
            "y": {"field": "lvl", "type": "quantitative", "scale": {"domain": [0, 100], "nice": false, "zero": false}, "axis": null}
          }
        },
        {
          "data": {"name": "seps"},
          "mark": {"type": "rule", "color": "#000080", "strokeWidth": 1, "strokeDash": [3, 3]},
          "encoding": {
            "x": {"field": "i", "type": "quantitative", "scale": {"domain": [-0.0625, 119.5625], "nice": false, "zero": false}, "axis": null}
          }
        },
        {
          "data": {"name": "rsi"},
          "mark": {"type": "line", "color": "#1e90ff", "strokeWidth": 1},
          "encoding": {
            "x": {"field": "i", "type": "quantitative", "axis": null},
            "y": {"field": "v", "type": "quantitative", "axis": {"orient": "right", "values": [0, 30, 70, 100], "labelFlush": true, "tickSize": 3, "labelPadding": 1, "title": null, "labelColor": "#10105a", "domainColor": "#000080", "tickColor": "#000080"}}
          }
        },
        {
          "data": {"values": [{"t": "freshforex.com"}]},
          "mark": {"type": "rect", "fill": "#8db542"},
          "encoding": {
            "x": {"datum": 52.44, "axis": null},
            "x2": {"datum": 79.69},
            "y": {"datum": 108.5, "axis": null},
            "y2": {"datum": 74.6}
          }
        },
        {
          "data": {"values": [{"t": "freshforex.com"}]},
          "mark": {"type": "text", "font": "Open Sans", "fontSize": 27.5, "color": "#ffffff", "align": "center", "baseline": "alphabetic"},
          "encoding": {
            "x": {"datum": 65.95, "axis": null},
            "y": {"datum": 83.1, "axis": null},
            "text": {"field": "t"}
          }
        },
        {
          "data": {"values": [{"t": "RSI(14) 67.9401"}]},
          "mark": {"type": "text", "font": "Liberation Sans", "fontSize": 9.5, "color": "#10105a", "align": "left", "baseline": "middle"},
          "encoding": {
            "x": {"datum": 0.44, "axis": null},
            "y": {"datum": 92.4, "axis": null},
            "text": {"field": "t"}
          }
        }
      ]
    },
    {
      "width": 957,
      "height": 116,
      "resolve": {"axis": {"x": "independent", "y": "independent"}},
      "layer": [
        {
          "data": {"name": "seps"},
          "mark": {"type": "rule", "color": "#000080", "strokeWidth": 1, "strokeDash": [3, 3]},
          "encoding": {
            "x": {"field": "i", "type": "quantitative", "scale": {"domain": [-0.0625, 119.5625], "nice": false, "zero": false}, "axis": null}
          }
        },
        {
          "data": {"name": "mdi"},
          "mark": {"type": "line", "color": "#f5deb3", "strokeWidth": 1, "strokeDash": [2, 2]},
          "encoding": {
            "x": {"field": "i", "type": "quantitative", "axis": null},
            "y": {"field": "v", "type": "quantitative", "scale": {"domain": [1, 53], "nice": false, "zero": false}, "axis": null}
          }
        },
        {
          "data": {"name": "pdi"},
          "mark": {"type": "line", "color": "#9acd32", "strokeWidth": 1, "strokeDash": [3, 2]},
          "encoding": {
            "x": {"field": "i", "type": "quantitative", "axis": null},
            "y": {"field": "v", "type": "quantitative", "axis": null}
          }
        },
        {
          "data": {"name": "adx"},
          "mark": {"type": "line", "color": "#ff0000", "strokeWidth": 1},
          "encoding": {
            "x": {"field": "i", "type": "quantitative", "axis": {"orient": "bottom", "values": [0, 8, 16, 24, 32, 40, 48, 56, 64, 72, 80, 88, 96, 104, 112], "labelExpr": "['19 Jun 2017','19 Jun 14:00','19 Jun 22:00','20 Jun 06:00','20 Jun 14:00','20 Jun 22:00','21 Jun 06:00','21 Jun 14:00','21 Jun 22:00','22 Jun 06:00','22 Jun 14:00','22 Jun 22:00','23 Jun 06:00','23 Jun 14:00','23 Jun 22:00'][round(datum.value / 8)]", "labelAlign": "left", "labelFlush": false, "labelBound": false, "labelOverlap": false, "tickSize": 4, "labelPadding": 1, "title": null, "labelColor": "#10105a", "domainColor": "#000080", "tickColor": "#000080"}},
            "y": {"field": "v", "type": "quantitative", "axis": {"orient": "right", "values": [1, 53], "labelFlush": true, "tickSize": 3, "labelPadding": 1, "title": null, "labelColor": "#10105a", "domainColor": "#000080", "tickColor": "#000080"}}
          }
        },
        {
          "data": {"values": [{"t": "ADX(14) 36.0170 +DI:23.1159 -DI:19.8164"}]},
          "mark": {"type": "text", "font": "Liberation Sans", "fontSize": 9.5, "color": "#10105a", "align": "left", "baseline": "middle"},
          "encoding": {
            "x": {"datum": 0.44, "axis": null},
            "y": {"datum": 48.5, "axis": null},
            "text": {"field": "t"}
          }
        }
      ]
    }
  ]
}
